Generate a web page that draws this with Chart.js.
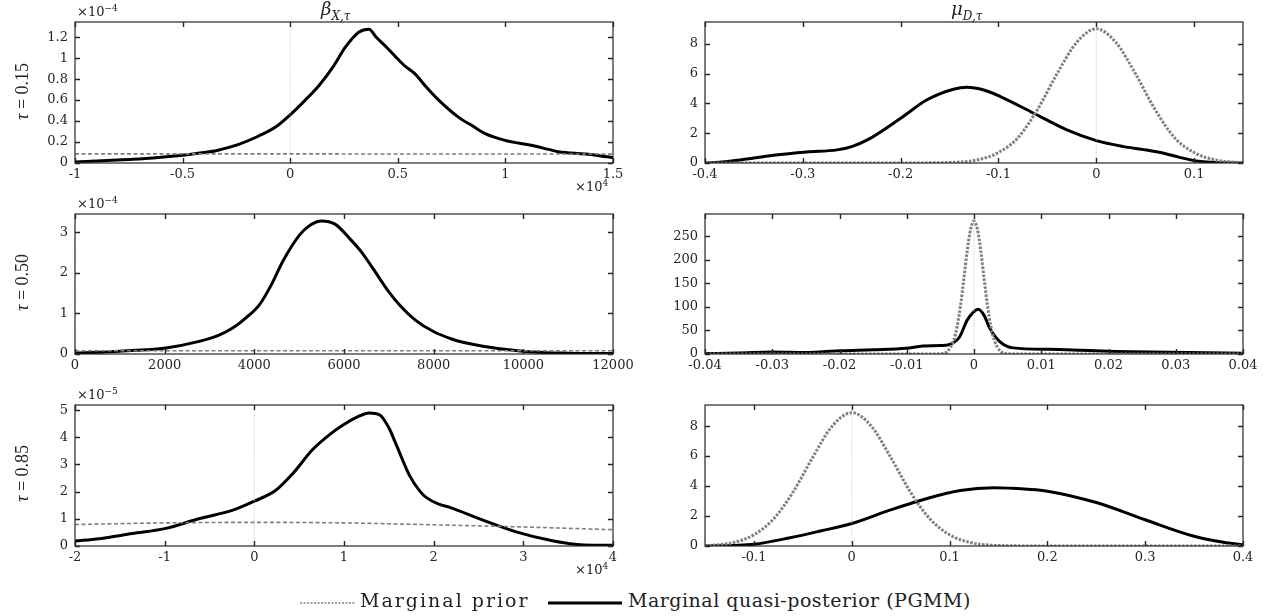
<!DOCTYPE html>
<html>
<head>
<meta charset="utf-8">
<script src="https://cdn.jsdelivr.net/npm/chart.js@4.4.1/dist/chart.umd.min.js"></script>
<style>
  html, body { margin:0; padding:0; background:#fff; }
  #wrap { position:relative; width:1270px; height:616px; background:#fff; overflow:hidden; }
  canvas { position:absolute; }
  .lbl { position:absolute; font-family:'DejaVu Serif', serif; color:#222; white-space:nowrap; }
  .ttl { font-size:18px; font-style:italic; }
  .ttl sub { font-size:12px; }
  .mult { font-size:13px; }
  .mult sup { font-size:9px; }
  .row { font-family:'Liberation Serif', serif; font-size:18px; transform-origin:center; transform:rotate(-90deg); }
  .leg { font-size:19px; }
</style>
</head>
<body>
<div id="wrap">
  <canvas id="c0"></canvas>
  <canvas id="c1"></canvas>
  <canvas id="c2"></canvas>
  <canvas id="c3"></canvas>
  <canvas id="c4"></canvas>
  <canvas id="c5"></canvas>

  <div class="lbl ttl" style="left:321px;top:-2px;">β<sub>X,τ</sub></div>
  <div class="lbl ttl" style="left:951px;top:-2px;">μ<sub>D,τ</sub></div>

  <div class="lbl mult" style="left:77px;top:3px;">×10<sup>−4</sup></div>
  <div class="lbl mult" style="left:77px;top:195px;">×10<sup>−4</sup></div>
  <div class="lbl mult" style="left:77px;top:386px;">×10<sup>−5</sup></div>
  <div class="lbl mult" style="left:575px;top:178px;">×10<sup>4</sup></div>
  <div class="lbl mult" style="left:575px;top:561px;">×10<sup>4</sup></div>

  <div class="lbl row" style="left:-8px;top:81px;width:60px;text-align:center;"><i>τ</i> = 0.15</div>
  <div class="lbl row" style="left:-8px;top:272px;width:60px;text-align:center;"><i>τ</i> = 0.50</div>
  <div class="lbl row" style="left:-8px;top:463px;width:60px;text-align:center;"><i>τ</i> = 0.85</div>

  <svg style="position:absolute;left:300px;top:596px;" width="330" height="14">
    <line x1="0" y1="7" x2="55" y2="7" stroke="#808080" stroke-width="1.5" stroke-dasharray="2,1.5"/>
    <line x1="248" y1="7" x2="322" y2="7" stroke="#000" stroke-width="3"/>
  </svg>
  <div class="lbl leg" style="left:360px;top:589px;letter-spacing:2px;">Marginal prior</div>
  <div class="lbl leg" style="left:628px;top:589px;letter-spacing:0.5px;">Marginal quasi-posterior (PGMM)</div>
</div>

<script>
// ---------- DATA ----------
// Row tau = 0.15, beta_X (x in 1e4, y in 1e-4)
const bX15_post_x = [-1, -0.85, -0.73, -0.6, -0.5, -0.4, -0.34, -0.25, -0.144, -0.07, 0, 0.07, 0.134, 0.2, 0.258, 0.32, 0.366, 0.4, 0.45, 0.489, 0.53, 0.58, 0.63, 0.69, 0.78, 0.85, 0.906, 1.0, 1.06, 1.12, 1.2, 1.245, 1.37, 1.42, 1.5];
const bX15_post_y = [0.01, 0.025, 0.035, 0.055, 0.075, 0.1, 0.12, 0.17, 0.26, 0.34, 0.46, 0.6, 0.74, 0.92, 1.11, 1.25, 1.277, 1.2, 1.1, 1.015, 0.93, 0.85, 0.73, 0.6, 0.44, 0.35, 0.28, 0.215, 0.19, 0.17, 0.13, 0.108, 0.086, 0.075, 0.05];
const bX15_prior_x = [-1, -0.5, 0, 0.5, 1, 1.5];
const bX15_prior_y = [0.087, 0.087, 0.087, 0.086, 0.086, 0.085];

// Row tau = 0.15, mu_D
const mD15_post_x = [-0.4, -0.38, -0.364, -0.33, -0.296, -0.265, -0.25, -0.234, -0.2, -0.173, -0.146, -0.132, -0.115, -0.098, -0.064, -0.03, 0, 0.028, 0.05, 0.069, 0.085, 0.1, 0.124, 0.15];
const mD15_post_y = [0.0, 0.08, 0.2, 0.52, 0.74, 0.88, 1.1, 1.55, 3.0, 4.24, 4.95, 5.08, 4.9, 4.46, 3.34, 2.22, 1.5, 1.1, 0.88, 0.65, 0.38, 0.16, 0.03, 0.0];
const mD15_prior_x = [-0.4, -0.2, -0.16, -0.14, -0.12, -0.1, -0.08, -0.06, -0.04, -0.02, 0, 0.02, 0.04, 0.06, 0.08, 0.1, 0.12, 0.14, 0.15];
const mD15_prior_y = [0, 0, 0.02, 0.06, 0.23, 0.7, 1.7, 3.6, 6.0, 8.1, 9.0, 8.1, 6.0, 3.6, 1.7, 0.7, 0.23, 0.06, 0.03];

// Row tau = 0.50, beta_X (y in 1e-4)
const bX50_post_x = [0, 1000, 2026, 2771, 3200, 3516, 3800, 4112, 4400, 4633, 5006, 5250, 5500, 5800, 6123, 6400, 6644, 7000, 7240, 7600, 7985, 8400, 8730, 9100, 9475, 10212, 11000, 12000];
const bX50_post_y = [0.02, 0.07, 0.15, 0.31, 0.46, 0.64, 0.88, 1.21, 1.75, 2.28, 2.93, 3.18, 3.28, 3.2, 2.85, 2.5, 2.11, 1.53, 1.21, 0.83, 0.56, 0.37, 0.27, 0.19, 0.13, 0.05, 0.02, 0.01];
const bX50_prior_x = [0, 4000, 8000, 12000];
const bX50_prior_y = [0.08, 0.08, 0.08, 0.08];

// Row tau = 0.50, mu_D
const mD50_post_x = [-0.04, -0.035, -0.03, -0.025, -0.02, -0.015, -0.0101, -0.0076, -0.005, -0.0037, -0.0022, -0.001, 0, 0.0006, 0.0015, 0.0023, 0.0038, 0.0058, 0.0112, 0.016, 0.021, 0.0318, 0.04];
const mD50_post_y = [1, 2, 4, 3, 7, 9, 12, 17, 18, 20, 35, 72, 90, 95, 82, 56, 27, 13, 10, 8, 5.5, 3, 1.5];
const mD50_prior_x = [-0.04, -0.006, -0.005, -0.004, -0.003, -0.0025, -0.002, -0.0015, -0.001, -0.0005, 0, 0.0005, 0.001, 0.0015, 0.002, 0.0025, 0.003, 0.004, 0.005, 0.006, 0.04];
const mD50_prior_y = [0, 0, 0.5, 5, 30, 59, 103, 160, 220, 265, 282, 265, 220, 160, 103, 59, 30, 5, 0.5, 0, 0];

// Row tau = 0.85, beta_X (x in 1e4, y in 1e-5)
const bX85_post_x = [-2, -1.73, -1.36, -1, -0.61, -0.24, 0, 0.24, 0.43, 0.65, 0.84, 0.99, 1.15, 1.28, 1.4, 1.5, 1.58, 1.73, 1.85, 1.92, 2.05, 2.18, 2.55, 2.92, 3.3, 3.67, 4];
const bX85_post_y = [0.18, 0.27, 0.46, 0.64, 1.01, 1.32, 1.65, 2.05, 2.67, 3.55, 4.1, 4.45, 4.75, 4.9, 4.82, 4.35, 3.75, 2.6, 2.0, 1.78, 1.55, 1.42, 0.95, 0.52, 0.21, 0.04, 0.03];
const bX85_prior_x = [-2, -1, 0, 1, 2, 3, 4];
const bX85_prior_y = [0.79, 0.85, 0.87, 0.85, 0.78, 0.7, 0.6];

// Row tau = 0.85, mu_D
const mD85_post_x = [-0.15, -0.12, -0.1, -0.063, -0.032, 0, 0.039, 0.077, 0.111, 0.145, 0.18, 0.2, 0.25, 0.3, 0.35, 0.38, 0.4];
const mD85_post_y = [0, 0.04, 0.11, 0.55, 1.0, 1.5, 2.39, 3.17, 3.7, 3.88, 3.78, 3.66, 2.9, 1.75, 0.65, 0.25, 0.08];
const mD85_prior_x = [-0.15, -0.14, -0.12, -0.1, -0.08, -0.06, -0.04, -0.02, 0, 0.02, 0.04, 0.06, 0.08, 0.1, 0.12, 0.14, 0.16, 0.2, 0.4];
const mD85_prior_y = [0.03, 0.06, 0.25, 0.75, 1.8, 3.6, 5.9, 8.0, 8.9, 8.0, 5.9, 3.6, 1.8, 0.75, 0.25, 0.06, 0.02, 0, 0];

// Axis ranges and tick steps
const xRanges = [[-1, 1.5, 0.5], [-0.4, 0.15, 0.1], [0, 12000, 2000], [-0.04, 0.04, 0.01], [-2, 4, 1], [-0.15, 0.4, 0.1]];
const yRanges = [[0, 1.345, 0.2], [0, 9.46, 2], [0, 3.45, 1], [0, 297, 50], [0, 5.19, 1], [0, 9.41, 2]];

// ---------- LAYOUT ----------
const colLeft = [75, 705];
const colRight = [613, 1243];
const rowTop = [22, 214, 405];
const rowBottom = [163, 354, 546];
const YW = 65, PADT = 12, PADR = 26, XH = 30;

function pts(xs, ys) { return xs.map((x, i) => ({x: x, y: ys[i]})); }

const boxPlugin = {
  id: 'boxTicks',
  afterDatasetsDraw(chart) {
    const {ctx, chartArea: a, scales} = chart;
    const x = scales.x, y = scales.y;
    ctx.save();
    ctx.strokeStyle = '#262626';
    ctx.lineWidth = 1.2;
    ctx.strokeRect(a.left, a.top, a.right - a.left, a.bottom - a.top);
    ctx.lineWidth = 1.4;
    const L = 5;
    ctx.beginPath();
    x.ticks.forEach(t => {
      const px = Math.round(x.getPixelForValue(t.value)) + 0.5;
      ctx.moveTo(px, a.bottom); ctx.lineTo(px, a.bottom - L);
      ctx.moveTo(px, a.top); ctx.lineTo(px, a.top + L);
    });
    y.ticks.forEach(t => {
      const py = Math.round(y.getPixelForValue(t.value)) + 0.5;
      ctx.moveTo(a.left, py); ctx.lineTo(a.left + L, py);
      ctx.moveTo(a.right, py); ctx.lineTo(a.right - L, py);
    });
    ctx.stroke();
    ctx.restore();
  }
};

const fmt = v => String(+Number(v).toFixed(6));

const panels = [
  {post: pts(bX15_post_x, bX15_post_y), prior: pts(bX15_prior_x, bX15_prior_y), right: false, zero: true},
  {post: pts(mD15_post_x, mD15_post_y), prior: pts(mD15_prior_x, mD15_prior_y), right: true, zero: true},
  {post: pts(bX50_post_x, bX50_post_y), prior: pts(bX50_prior_x, bX50_prior_y), right: false, zero: true},
  {post: pts(mD50_post_x, mD50_post_y), prior: pts(mD50_prior_x, mD50_prior_y), right: true, zero: true},
  {post: pts(bX85_post_x, bX85_post_y), prior: pts(bX85_prior_x, bX85_prior_y), right: false, zero: true},
  {post: pts(mD85_post_x, mD85_post_y), prior: pts(mD85_prior_x, mD85_prior_y), right: true, zero: true}
];

panels.forEach((p, i) => {
  const col = i % 2, row = Math.floor(i / 2);
  const pl = colLeft[col], pr = colRight[col], pt = rowTop[row], pb = rowBottom[row];
  const cv = document.getElementById('c' + i);
  const W = (pr - pl) + YW + PADR, H = (pb - pt) + PADT + XH;
  cv.width = W; cv.height = H;
  cv.style.left = (pl - YW) + 'px'; cv.style.top = (pt - PADT) + 'px';
  cv.style.width = W + 'px'; cv.style.height = H + 'px';
  const [xmin, xmax, xstep] = xRanges[i];
  const [ymin, ymax, ystep] = yRanges[i];
  const datasets = [];
  if (p.zero) {
    datasets.push({data: [{x: 0, y: ymin}, {x: 0, y: ymax}], borderColor: '#c4c4c4', borderWidth: 1, borderDash: [1, 1.5], pointRadius: 0, tension: 0});
  }
  datasets.push({
    data: p.prior, borderColor: '#7f7f7f',
    borderWidth: p.right ? 3 : 1.6,
    borderDash: p.right ? [2.5, 1.5] : [4, 2.5],
    pointRadius: 0, cubicInterpolationMode: 'monotone'
  });
  datasets.push({data: p.post, borderColor: '#000', borderWidth: 3, pointRadius: 0, cubicInterpolationMode: 'monotone'});

  new Chart(cv, {
    type: 'line',
    data: {datasets: datasets},
    options: {
      responsive: false, animation: false, events: [], devicePixelRatio: 1,
      layout: {padding: {left: 0, top: PADT, right: PADR, bottom: 0}},
      plugins: {legend: {display: false}, tooltip: {enabled: false}},
      scales: {
        x: {
          type: 'linear', min: xmin, max: xmax,
          grid: {display: false, drawTicks: false}, border: {display: false},
          ticks: {stepSize: xstep, includeBounds: false, autoSkip: false, maxRotation: 0, padding: 4,
                  color: '#262626', font: {family: 'DejaVu Serif', size: 13}, callback: fmt},
          afterFit(s) { s.height = XH; s.paddingLeft = 0; s.paddingRight = 0; }
        },
        y: {
          type: 'linear', min: ymin, max: ymax,
          grid: {display: false, drawTicks: false}, border: {display: false},
          ticks: {stepSize: ystep, includeBounds: false, autoSkip: false, padding: 7,
                  color: '#262626', font: {family: 'DejaVu Serif', size: 13}, callback: fmt},
          afterFit(s) { s.width = YW; s.paddingTop = 0; s.paddingBottom = 0; }
        }
      }
    },
    plugins: [boxPlugin]
  });
});
</script>
</body>
</html>
